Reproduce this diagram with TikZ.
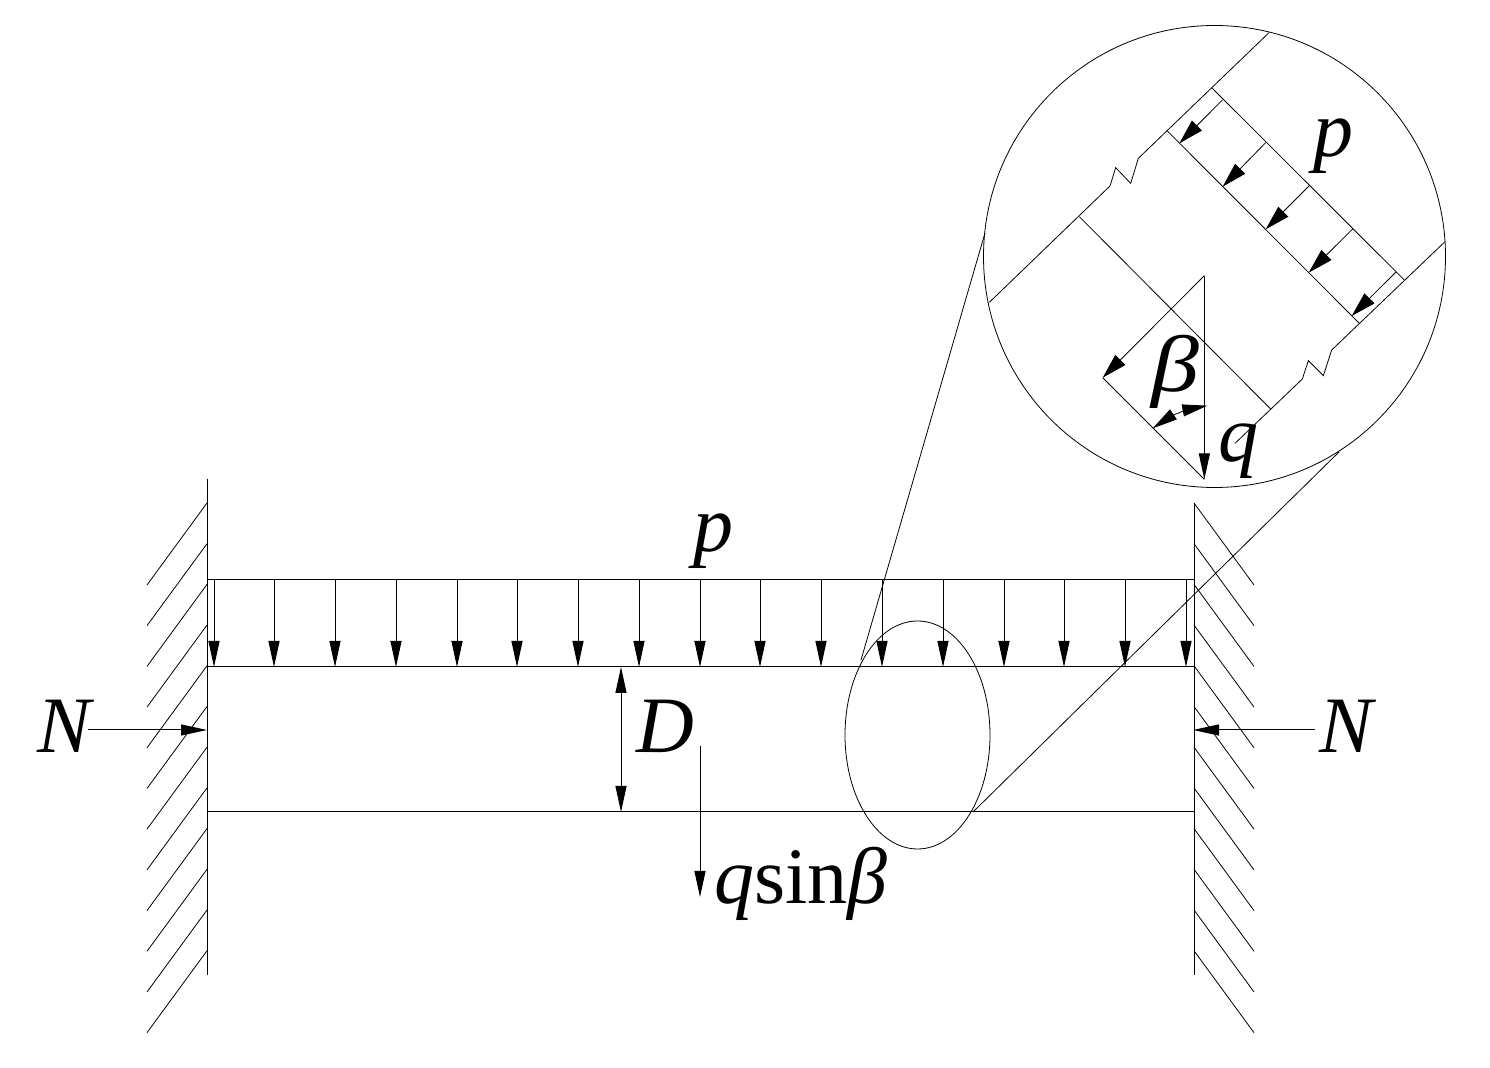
\documentclass[tikz,border=0pt]{standalone}
\usepackage{fontspec}
\setmainfont{Liberation Serif}
\usetikzlibrary{arrows.meta,shapes.geometric}
\tikzset{
  thickln/.style={line width=0.5pt},
  thinln/.style={line width=0.4pt},
  tip/.style={-{Triangle[length=13pt,width=5.5pt]}},
  tipw/.style={-{Triangle[length=12.5pt,width=7pt]}},
  twotip/.style={{Triangle[length=13pt,width=5.5pt]}-{Triangle[length=13pt,width=5.5pt]}},
  twotipw/.style={{Triangle[length=12.5pt,width=6pt]}-{Triangle[length=12.5pt,width=6pt]}},
  lbl/.style={anchor=base west,inner sep=0pt,outer sep=0pt,font=\fontsize{40}{40}\selectfont},
}
\begin{document}
\begin{tikzpicture}[x=0.5pt,y=-0.5pt]
\useasboundingbox (0,0) rectangle (1490,1068);
% walls
\coordinate (wlt) at (207,479); \coordinate (wlb) at (207,975);
\coordinate (wrt) at (1194,503); \coordinate (wrb) at (1194,975);
\draw[thickln] (wlt) -- (wlb);
\draw[thickln] (wrt) -- (wrb);
\foreach \k in {0,...,11}{
  \draw[thinln] (207,503+40.7*\k) -- (147,585+40.7*\k);
  \draw[thinln] (1194,503+40.7*\k) -- (1254,585+40.7*\k);
}
% layer lines
\coordinate (tl) at (207,580); \coordinate (tr) at (1194,580);
\coordinate (ml) at (207,667); \coordinate (mr) at (1194,667);
\coordinate (bl) at (207,812); \coordinate (br) at (1194,812);
\draw[thickln] (tl) -- (tr);
\draw[thickln] (ml) -- (mr);
\draw[thickln] (bl) -- (br);
% distributed load
\foreach \x in {214,274,335,396,457,517,578,639,700,760,821,882,943,1004,1064,1125,1186}{
  \draw[thickln,tip] (\x,580) -- (\x,667);
}
% labels
\node[lbl] (pmain) at (693,552) {\textit{p}};
\node[lbl] (nleft) at (38,753) {\textit{N}};
\node[lbl] (nright) at (1319,753) {\textit{N}};
\node[lbl] (dlab) at (636,753) {\textit{D}};
\node[lbl] (qsb) at (714,904) {\textit{q}sin\textit{β}};
% N arrows
\coordinate (na) at (88,730); \coordinate (nb) at (207,730);
\coordinate (nc) at (1315,730); \coordinate (nd) at (1193,730);
\draw[thickln,tip] (na) -- (nb);
\draw[thickln,tip] (nc) -- (nd);
% D and q sin beta
\coordinate (da) at (621,667); \coordinate (db) at (621,812);
\draw[thickln,twotip] (da) -- (db);
\coordinate (qa) at (700,746); \coordinate (qb) at (700,897);
\draw[thickln,tip] (qa) -- (qb);
% detail ellipse, circle and leader lines
\node[draw,thinln,ellipse,minimum width=72.5pt,minimum height=114pt,inner sep=0pt] (ell) at (917.5,735) {};
\node[draw,thinln,circle,minimum size=231pt,inner sep=0pt] (circ) at (1214.5,256.5) {};
\coordinate (lla) at (985,233); \coordinate (llb) at (861,660);
\coordinate (lra) at (1339,452); \coordinate (lrb) at (973,812);
\draw[thinln] (lla) -- (llb);
\draw[thinln] (lra) -- (lrb);
% inset, in 3x crop coordinates
\begin{scope}[shift={(970,20)},x=0.16667pt,y=-0.16667pt]
  \draw[thinln] (897,38) -- (505,415) -- (482,490) -- (437,443) -- (420,498) -- (58,847);
  \draw[thinln] (1425,665) -- (1085,990) -- (1060,1067) -- (1015,1022) -- (997,1077) -- (795,1270);
  \draw[thinln] (727,205) -- (1303,780);
  \draw[thinln] (592,333) -- (1168,910);
  \draw[thinln] (328,590) -- (902,1167);
  \draw[thinln,tipw] (757,240) -- (628,370);
  \draw[thinln,tipw] (887,368) -- (758,500);
  \draw[thinln,tipw] (1018,497) -- (887,628);
  \draw[thinln,tipw] (1148,627) -- (1016,758);
  \draw[thinln,tipw] (1278,756) -- (1145,888);
  \draw[thickln,tip] (703,767) -- (703,1378);
  \draw[thinln,tipw] (703,767) -- (398,1073);
  \draw[thinln] (398,1073) -- (703,1378);
  \draw[thinln,twotipw] (548,1225) .. controls (600,1190) and (655,1168) .. (712,1157);
  \node[lbl,xscale=1.2,transform shape] (bin) at (545,1115) {\textit{β}};
  \node[lbl] (pin) at (1030,410) {\textit{p}};
  \node[lbl] (qin) at (745,1325) {\textit{q}};
\end{scope}
\end{tikzpicture}
\end{document}
